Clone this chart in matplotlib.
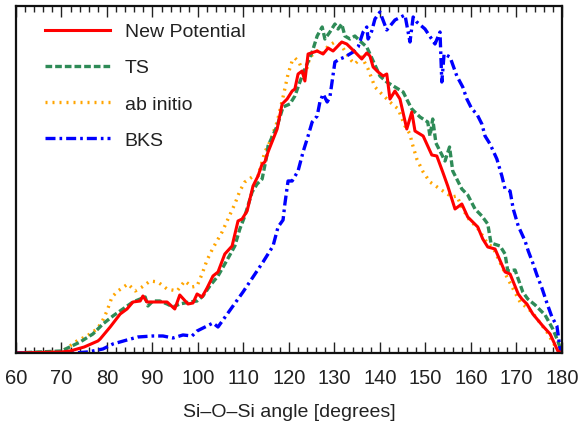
import matplotlib
matplotlib.use("Agg")
import matplotlib.pyplot as plt
from matplotlib.ticker import MultipleLocator

plt.rcParams['font.family'] = ['Liberation Sans Narrow', 'Liberation Sans', 'DejaVu Sans']

# Si-O-Si bond angle distributions (arbitrary units)
new_angle = [60, 70, 71.9, 75, 78, 78.5, 80.7, 82.9, 84.4, 85.7, 87.3, 87.9, 88.8, 91.0, 93.2,
             94.9, 96.0, 97.8, 98.9, 99.8, 100.9, 102.0, 103.3, 104.4, 105.9, 107.5, 108.8,
             109.7, 110.8, 112.1, 113.2, 114.1, 114.7, 115.4, 117.4, 118.5, 119.6, 120.7,
             121.3, 122.0, 122.9, 123.5, 124.2, 126.2, 127.5, 128.6, 129.7, 131.6, 132.7,
             134.5, 136.0, 137.1, 137.8, 138.5, 139.6, 140.7, 141.5, 142.2, 143.3, 144.4,
             145.9, 147.0, 147.7, 149.5, 151.4, 152.5, 153.8, 154.9, 156.5, 158.0, 159.3,
             161.5, 162.6, 163.7, 165.3, 167.5, 168.6, 170.4, 171.2, 172.3, 173.6, 175.8,
             177.4, 179.1, 180]
new_dist = [0, 1, 2, 6, 12, 14, 26, 39, 44, 51, 52, 57, 51, 51, 51,
            44, 58, 49, 50, 59, 56, 65, 77, 81, 99, 107, 132,
            134, 142, 167, 177, 189, 191, 201, 224, 249, 254, 262,
            264, 279, 282, 272, 299, 302, 299, 305, 302, 311, 309,
            301, 294, 300, 297, 286, 281, 277, 279, 254, 262, 254,
            224, 241, 222, 217, 198, 197, 181, 167, 144, 149, 136,
            126, 114, 106, 104, 81, 79, 59, 54, 49, 39, 27,
            19, 2, 0]

ts_angle = [60, 70, 74.1, 76.9, 79.1, 81.3, 83.5, 85.7, 87.3, 88.4, 89.0, 90.1, 91.6, 93.2,
            94.5, 96.0, 98.2, 99.8, 101.1, 102.6, 104.4, 106.4, 108.1, 109.2, 110.3, 111.9,
            113.0, 114.1, 115.2, 115.4, 117.4, 118.7, 120.2, 121.3, 122.4, 123.5, 125.1,
            126.2, 127.3, 127.9, 129.0, 130.1, 130.8, 131.6, 132.3, 133.4, 134.5, 135.6,
            137.1, 138.5, 140.0, 141.5, 143.3, 145.1, 146.2, 147.0, 148.8, 150.5, 151.0,
            151.6, 152.3, 154.3, 155.3, 156.0, 158.0, 159.3, 160.9, 162.4, 163.7, 164.4,
            166.4, 167.5, 168.1, 169.7, 171.4, 172.5, 174.1, 176.3, 178.0, 179.1, 180]
ts_dist = [0, 2, 11, 19, 29, 37, 44, 51, 54, 56, 47, 52, 52, 49,
           46, 49, 51, 52, 57, 67, 77, 93, 107, 124, 137, 161,
           169, 174, 199, 207, 227, 246, 249, 257, 271, 284, 301,
           317, 326, 314, 321, 329, 324, 329, 317, 314, 317, 312,
           306, 292, 277, 271, 266, 261, 251, 244, 236, 231, 217,
           234, 210, 192, 206, 182, 164, 158, 144, 137, 129, 110,
           107, 99, 82, 83, 61, 54, 48, 38, 24, 12, 0]

abinitio_angle = [60, 70, 73.4, 75.6, 77.8, 78.9, 80.0, 81.1, 82.4, 84.6, 86.2, 87.7, 89.5,
                  91.2, 93.2, 95.4, 97.1, 98.7, 99.8, 100.9, 102.0, 103.3, 105.3, 106.6,
                  108.1, 109.2, 110.3, 111.9, 113.2, 114.7, 115.8, 117.4, 118.7, 119.8,
                  120.7, 121.3, 122.2, 123.5, 124.6, 126.2, 127.3, 128.6, 130.1, 131.6,
                  132.7, 133.8, 134.5, 136.0, 137.4, 138.9, 140.4, 142.2, 144.0, 145.5,
                  146.6, 147.0, 148.1, 149.5, 151.0, 153.2, 155.8, 156.9, 158.2, 159.8,
                  161.3, 162.6, 163.7, 164.8, 167.9, 170.8, 173.4, 176.7, 178.5, 179.6]
abinitio_dist = [0, 1, 12, 17, 24, 31, 42, 56, 62, 69, 62, 66, 72,
                 71, 64, 62, 72, 66, 67, 79, 93, 105, 121, 134,
                 149, 162, 171, 176, 177, 201, 211, 231, 256, 279,
                 292, 295, 291, 277, 296, 302, 299, 307, 311, 307,
                 299, 292, 289, 296, 284, 266, 259, 251, 244, 227,
                 219, 211, 194, 181, 171, 164, 156, 157, 144, 132,
                 126, 117, 109, 106, 76, 51, 41, 21, 7, 0]

bks_angle = [60, 70, 73.0, 75.6, 76.9, 79.1, 81.3, 84.4, 86.8, 90.1, 92.3, 94.5, 96.7, 98.7,
             99.8, 102.0, 103.3, 104.4, 105.5, 107.7, 109.9, 112.1, 114.3, 116.5, 117.6,
             118.7, 119.1, 119.8, 120.7, 122.0, 123.1, 124.2, 125.1, 126.2, 126.8, 127.5,
             128.4, 129.0, 130.1, 131.2, 132.3, 134.1, 135.2, 136.3, 137.1, 137.4, 138.2,
             138.9, 140.0, 141.5, 143.3, 145.5, 146.6, 147.3, 148.1, 149.9, 152.1, 153.2,
             153.6, 154.1, 155.4, 156.9, 158.2, 159.1, 160.2, 161.3, 162.4, 163.1, 164.2,
             165.7, 166.8, 167.5, 168.6, 169.3, 170.4, 171.9, 172.6, 173.6, 174.5, 175.6,
             176.7, 177.8, 178.9, 179.6, 180]
bks_dist = [0, 0, 0, 1, 2, 4, 9, 13, 16, 17, 17, 15, 18, 17,
            22, 27, 30, 26, 33, 47, 61, 76, 91, 107, 126,
            133, 149, 172, 172, 182, 201, 217, 231, 237, 251, 259,
            251, 256, 291, 294, 296, 301, 306, 321, 326, 314, 322,
            334, 341, 323, 333, 338, 311, 336, 331, 324, 309, 321,
            271, 299, 296, 277, 266, 254, 244, 239, 229, 217, 209,
            194, 177, 164, 162, 144, 127, 112, 102, 90, 78, 65,
            50, 36, 27, 4, 0]

fig = plt.figure(figsize=(5.82, 4.27), dpi=100)
ax = fig.add_axes([0.0275, 0.171, 0.938, 0.8126])

ax.plot(abinitio_angle, abinitio_dist, color='#ffa500', lw=2.4, ls=(0, (0.6, 1.5)),
        dash_capstyle='butt', label='ab initio')
ax.plot(ts_angle, ts_dist, color='#2e8b57', lw=2.4, ls=(0, (2.0, 0.9)), label='TS')
ax.plot(bks_angle, bks_dist, color='#0000ff', lw=2.4, ls=(0, (3.0, 1.2, 0.8, 1.2)), label='BKS')
ax.plot(new_angle, new_dist, color='#ff0000', lw=2.2, label='New Potential')

ax.set_xlim(60, 180)
ax.set_ylim(0, 347)
ax.xaxis.set_major_locator(MultipleLocator(10))
ax.xaxis.set_minor_locator(MultipleLocator(2))
ax.tick_params(axis='x', which='both', direction='in', top=True, bottom=True,
               labelsize=14.5, colors='#222222', width=1.0, pad=11)
ax.tick_params(axis='x', which='major', length=8)
ax.tick_params(axis='x', which='minor', length=4)
ax.tick_params(axis='y', left=False, labelleft=False)
for s in ax.spines.values():
    s.set_linewidth(1.6)
    s.set_color('#111111')

ax.set_xlabel('Si–O–Si angle [degrees]', fontsize=14, color='#222222', labelpad=11)

handles, labels = ax.get_legend_handles_labels()
order = [3, 1, 0, 2]
ax.legend([handles[i] for i in order], [labels[i] for i in order], loc='upper left',
          bbox_to_anchor=(0.038, 0.974), borderaxespad=0.0, borderpad=0.4,
          frameon=False, fontsize=14, handlelength=3.35, handletextpad=0.77,
          labelspacing=0.95, labelcolor='#222222')

fig.savefig('out.png', dpi=100)
